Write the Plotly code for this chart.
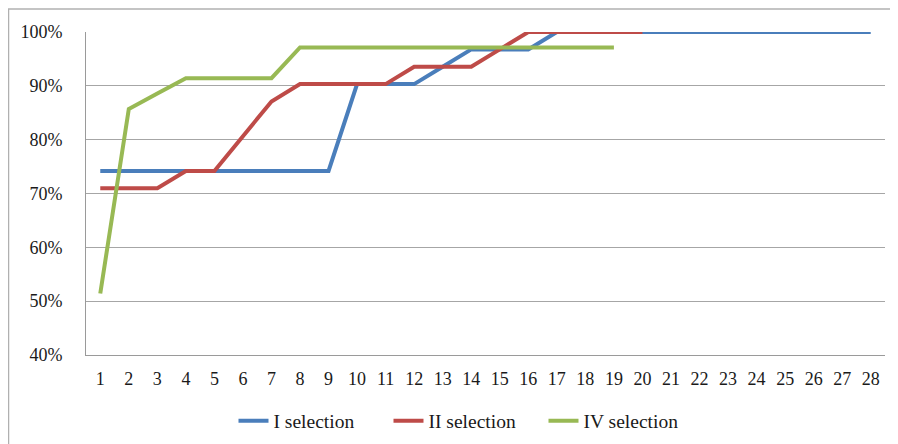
import plotly.graph_objects as go

categories = list(range(1, 29))
series_names = ["I selection", "II selection", "IV selection"]
sel_I = [74.19]*9 + [90.32, 90.32, 90.32, 93.55, 96.77, 96.77, 96.77] + [100.0]*12
sel_II = [70.97, 70.97, 70.97, 74.19, 74.19, 80.65, 87.10, 90.32, 90.32, 90.32, 90.32,
          93.55, 93.55, 93.55, 96.77, 100.0, 100.0, 100.0, 100.0, 100.0]
sel_IV = [51.43, 85.71, 88.57, 91.43, 91.43, 91.43, 91.43] + [97.14]*12
colors = ["#4A7EBB", "#BE4B48", "#98B954"]
y_ticks = [40, 50, 60, 70, 80, 90, 100]
y_labels = [f"{v}%" for v in y_ticks]

font_family = "Liberation Serif"

fig = go.Figure()
for name, vals, col in zip(series_names, [sel_I, sel_II, sel_IV], colors):
    fig.add_trace(go.Scatter(
        x=categories[:len(vals)], y=vals, name=name, mode="lines",
        line=dict(color=col, width=4),
    ))

W, H = 890, 436
L, R, T, B = 78, 13, 24, 89
pw, ph = W - L - R, H - T - B

fig.update_layout(
    width=W, height=H,
    margin=dict(l=L, r=R, t=T, b=B),
    paper_bgcolor="white", plot_bgcolor="white",
    font=dict(family=font_family, size=18, color="#1a1a1a"),
    showlegend=True,
    legend=dict(orientation="h", xref="container", yref="container",
                x=0.5146, xanchor="center",
                y=1 - 413 / H, yanchor="middle",
                font=dict(family=font_family, size=19.5), itemwidth=30,
                entrywidth=110, entrywidthmode="pixels"),
    xaxis=dict(range=[0.5, 28.5], tickmode="array", tickvals=categories,
               ticktext=[str(c) for c in categories], showgrid=False,
               showline=True, linecolor="#9a9a9a", linewidth=1, ticks="",
               ticklabelstandoff=7, zeroline=False),
    yaxis=dict(range=[40, 100], tickmode="array", tickvals=y_ticks, ticktext=y_labels,
               showgrid=True, gridcolor="#a6a6a6", gridwidth=1,
               showline=True, linecolor="#9a9a9a", linewidth=1, ticks="",
               ticklabelstandoff=19, zeroline=False),
    shapes=[
        dict(type="line", xref="paper", yref="paper",
             x0=-L / pw, x1=(W - L) / pw + 0.02, y0=1 + (T - 1) / ph, y1=1 + (T - 1) / ph,
             line=dict(color="#b0b0b0", width=1.5)),
        dict(type="line", xref="paper", yref="paper",
             x0=-L / pw + 0.5 / pw, x1=-L / pw + 0.5 / pw, y0=1 + (T - 1) / ph, y1=-(B + 10) / ph,
             line=dict(color="#b0b0b0", width=1.5)),
    ],
)

fig.write_html("out.html")
